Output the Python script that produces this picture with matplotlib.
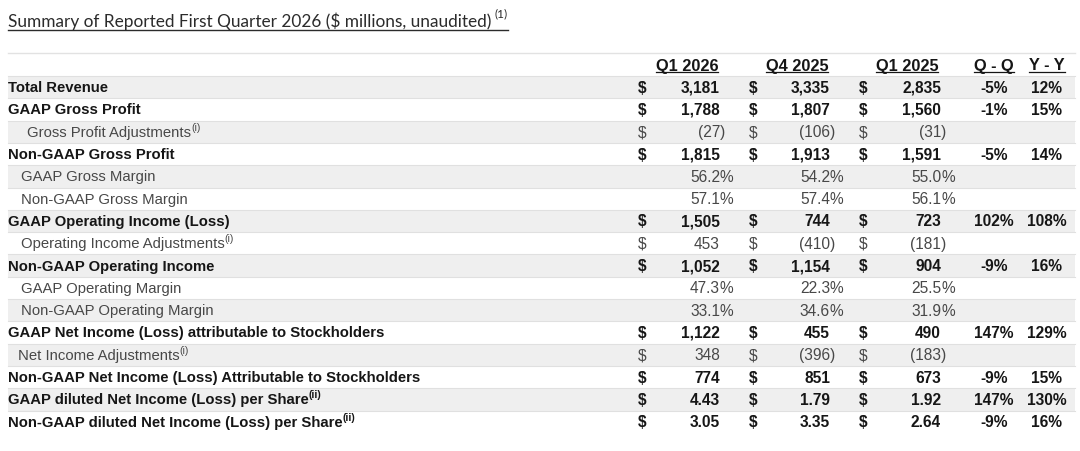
import matplotlib
matplotlib.use("Agg")
import matplotlib.pyplot as plt
from matplotlib.patches import Rectangle

# ---- data ----
title = "Summary of Reported First Quarter 2026 ($ millions, unaudited)"
title_note = "(1)"
columns = ["Q1 2026", "Q4 2025", "Q1 2025"]
change_columns = ["Q - Q", "Y - Y"]

labels = [
    "Total Revenue",
    "GAAP Gross Profit",
    "Gross Profit Adjustments",
    "Non-GAAP Gross Profit",
    "GAAP Gross Margin",
    "Non-GAAP Gross Margin",
    "GAAP Operating Income (Loss)",
    "Operating Income Adjustments",
    "Non-GAAP Operating Income",
    "GAAP Operating Margin",
    "Non-GAAP Operating Margin",
    "GAAP Net Income (Loss) attributable to Stockholders",
    "Net Income Adjustments",
    "Non-GAAP Net Income (Loss) Attributable to Stockholders",
    "GAAP diluted Net Income (Loss) per Share",
    "Non-GAAP diluted Net Income (Loss) per Share",
]
notes = ["", "", "(i)", "", "", "", "", "(i)", "", "", "", "", "(i)", "", "(ii)", "(ii)"]
# 0 = headline row, 1 = sub row
level = [0, 0, 1, 0, 1, 1, 0, 1, 0, 1, 1, 0, 1, 0, 0, 0]
kind = ["usd", "usd", "usd", "usd", "pct", "pct", "usd", "usd", "usd", "pct", "pct",
        "usd", "usd", "usd", "eps", "eps"]

q1_2026 = [3181, 1788, -27, 1815, 56.2, 57.1, 1505, 453, 1052, 47.3, 33.1, 1122, 348, 774, 4.43, 3.05]
q4_2025 = [3335, 1807, -106, 1913, 54.2, 57.4, 744, -410, 1154, 22.3, 34.6, 455, -396, 851, 1.79, 3.35]
q1_2025 = [2835, 1560, -31, 1591, 55.0, 56.1, 723, -181, 904, 25.5, 31.9, 490, -183, 673, 1.92, 2.64]
q_q = [-5, -1, None, -5, None, None, 102, None, -9, None, None, 147, None, -9, 147, -9]
y_y = [12, 15, None, 14, None, None, 108, None, 16, None, None, 129, None, 15, 130, 16]

# ---- layout (pixels) ----
W, H = 1080, 452
left, right = 8, 1075
row_top, row_h = 77, 22.3
dollar_x = [642, 753, 863]
value_x = [720, 830, 941]
header_x = [687, 797, 907]
change_x = [994, 1047]
header_y = 66
indent_x = {2: 27, 12: 18}   # the source indents a couple of rows a bit differently

FONT = "Liberation Sans"
FS = 11.2        # numbers
FS_LABEL = 10.75  # row labels
FS_HEAD = 11.8
DARK = "#161616"
GREY = "#484848"

fig = plt.figure(figsize=(W / 100, H / 100), dpi=100)
ax = fig.add_axes([0, 0, 1, 1])
ax.set_xlim(0, W)
ax.set_ylim(H, 0)
ax.axis("off")
renderer = fig.canvas.get_renderer()


def text_width(t):
    bb = t.get_window_extent(renderer=renderer)
    return bb.width


def fmt(v, k):
    if k == "pct":
        return "%.1f" % v, "%"
    if k == "eps":
        return "%.2f" % v, ""
    if v < 0:
        return "({:,.0f}".format(-v), ")"
    return "{:,.0f}".format(v), ""


# title with underline
t = ax.text(left, 21, title, family="Lato", fontsize=12.4, color="#2b2b2b",
            ha="left", va="center")
tw = text_width(t)
sup = ax.text(left + tw + 3, 14, title_note, family="Lato", fontsize=8.5,
              color="#2b2b2b", ha="left", va="center")
sw = text_width(sup)
ax.plot([left, left + tw + 3 + sw], [31, 31], color="#2b2b2b", lw=1.0)

# top rule
ax.plot([left, right], [54, 54], color="#e2e2e2", lw=1)

# headers
for name, x in zip(columns + change_columns, header_x + change_x):
    h = ax.text(x, header_y, name, family=FONT, fontsize=FS_HEAD, fontweight="bold",
                color=DARK, ha="center", va="center")
    hw = text_width(h)
    ax.plot([x - hw / 2, x + hw / 2], [header_y + 7, header_y + 7], color=DARK, lw=0.9)

# rows
for i, label in enumerate(labels):
    y0 = row_top + i * row_h
    yc = y0 + row_h / 2
    if i % 2 == 0:
        ax.add_patch(Rectangle((left, y0), right - left, row_h, facecolor="#efefef",
                               edgecolor="none"))
        ax.plot([left, right], [y0, y0], color="#e0e0e0", lw=0.8)
        ax.plot([left, right], [y0 + row_h, y0 + row_h], color="#e0e0e0", lw=0.8)
    bold = level[i] == 0
    weight = "bold" if bold else "normal"
    color = DARK if bold else GREY
    lx = left if bold else indent_x.get(i, 21)
    lt = ax.text(lx, yc, label, family=FONT, fontsize=FS_LABEL, fontweight=weight,
                 color=color, ha="left", va="center")
    if notes[i]:
        lw_ = text_width(lt)
        ax.text(lx + lw_, yc - 5, notes[i], family=FONT, fontsize=7.5,
                fontweight=weight, color=color, ha="left", va="center")

    for col, vals in enumerate([q1_2026, q4_2025, q1_2025]):
        if kind[i] != "pct":
            ax.text(dollar_x[col], yc, "$", family=FONT, fontsize=FS, fontweight=weight,
                    color=color, ha="center", va="center")
        body, tail = fmt(vals[i], kind[i])
        ax.text(value_x[col], yc, body, family=FONT, fontsize=FS, fontweight=weight,
                color=color, ha="right", va="center")
        if tail:
            ax.text(value_x[col], yc, tail, family=FONT, fontsize=FS, fontweight=weight,
                    color=color, ha="left", va="center")

    for col, vals in enumerate([q_q, y_y]):
        if vals[i] is not None:
            ax.text(change_x[col], yc, "%d%%" % vals[i], family=FONT, fontsize=FS,
                    fontweight=weight, color=color, ha="center", va="center")

fig.savefig("out.png", dpi=100, facecolor="white")
